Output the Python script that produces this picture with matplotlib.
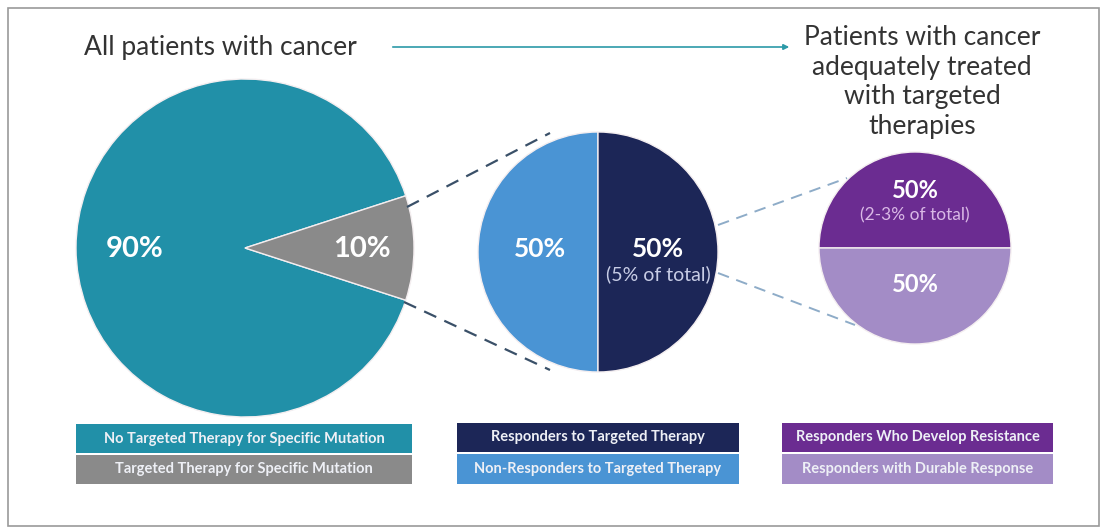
import matplotlib
matplotlib.use("Agg")
import matplotlib.pyplot as plt
from matplotlib.patches import Rectangle

plt.rcParams['font.family'] = ['Lato', 'DejaVu Sans']

# data
all_labels = ["No Targeted Therapy for Specific Mutation", "Targeted Therapy for Specific Mutation"]
all_values = [90, 10]
all_colors = ["#2190a8", "#8a8a8a"]

targeted_labels = ["Non-Responders to Targeted Therapy", "Responders to Targeted Therapy"]
targeted_values = [50, 50]
targeted_colors = ["#4a94d4", "#1c2657"]

responder_labels = ["Responders Who Develop Resistance", "Responders with Durable Response"]
responder_values = [50, 50]
responder_colors = ["#6b2c91", "#a38cc6"]

W, H = 1106, 532
fig = plt.figure(figsize=(W / 100, H / 100), dpi=100)
ax = fig.add_axes([0, 0, 1, 1])


def Y(y):
    return H - y


wp = dict(edgecolor="#f4eef0", linewidth=1)

# big pie (10% wedge centred on the right)
ax.pie(all_values, colors=all_colors, startangle=18,
       center=(245, Y(248)), radius=169, frame=True, wedgeprops=wp)
ax.text(135, Y(249), f"{all_values[0]}%", color="white", fontsize=21, fontweight="bold", ha="center", va="center")
ax.text(362, Y(249), f"{all_values[1]}%", color="white", fontsize=21, fontweight="bold", ha="center", va="center")

# middle pie
ax.pie(targeted_values, colors=targeted_colors, startangle=90,
       center=(598, Y(252)), radius=120, frame=True, wedgeprops=wp)
ax.text(540, Y(249), f"{targeted_values[0]}%", color="white", fontsize=19, fontweight="bold", ha="center", va="center")
ax.text(658, Y(249), f"{targeted_values[1]}%", color="white", fontsize=19, fontweight="bold", ha="center", va="center")
ax.text(658, Y(274), "(5% of total)", color="#c8cde6", fontsize=14, ha="center", va="center")

# right pie
ax.pie(responder_values, colors=responder_colors, startangle=0,
       center=(915, Y(248)), radius=96, frame=True, wedgeprops=wp)
ax.text(915, Y(191), f"{responder_values[0]}%", color="white", fontsize=17, fontweight="bold", ha="center", va="center")
ax.text(915, Y(215), "(2-3% of total)", color="#d9b8e6", fontsize=12.5, ha="center", va="center")
ax.text(915, Y(285), f"{responder_values[1]}%", color="white", fontsize=17, fontweight="bold", ha="center", va="center")

# connector dashes
ax.plot([407, 550], [Y(207), Y(133)], ls=(0, (6, 4)), color="#3a5068", lw=1.6)
ax.plot([404, 550], [Y(302), Y(370)], ls=(0, (6, 4)), color="#3a5068", lw=1.6)
ax.plot([718, 847], [Y(225), Y(178)], ls=(0, (6, 4)), color="#8eacc8", lw=1.4)
ax.plot([718, 855], [Y(273), Y(325)], ls=(0, (6, 4)), color="#8eacc8", lw=1.4)

# titles and arrow
ax.text(220, Y(47), "All patients with cancer", fontsize=19, color="#333333", ha="center", va="center")
ax.annotate("", xy=(792, Y(47)), xytext=(390, Y(47)),
            arrowprops=dict(arrowstyle="-|>", color="#2c9aa8", lw=1.2, mutation_scale=8))
ax.text(922, Y(82), "Patients with cancer\nadequately treated\nwith targeted\ntherapies",
        fontsize=19, color="#333333", ha="center", va="center", linespacing=1.22)

# legend boxes
boxes = [
    (76, 412, all_labels[0], all_colors[0], 424, 453),
    (76, 412, all_labels[1], all_colors[1], 455, 484),
    (457, 739, targeted_labels[1], targeted_colors[1], 423, 452),
    (457, 739, targeted_labels[0], targeted_colors[0], 454, 484),
    (782, 1053, responder_labels[0], responder_colors[0], 423, 452),
    (782, 1053, responder_labels[1], responder_colors[1], 454, 484),
]
for x0, x1, lab, col, y0, y1 in boxes:
    ax.add_patch(Rectangle((x0, Y(y1)), x1 - x0, y1 - y0, facecolor=col, edgecolor="none"))
    ax.text((x0 + x1) / 2, Y((y0 + y1) / 2), lab, color="#eef0f6", fontsize=10.5,
            fontweight="bold", ha="center", va="center")

# outer frame
ax.add_patch(Rectangle((8, Y(526)), 1091, 518, facecolor="none", edgecolor="#9a9a9a", lw=1.2))

ax.set_xlim(0, W)
ax.set_ylim(0, H)
ax.set_aspect("equal")
ax.axis("off")

fig.savefig("out.png", dpi=100, facecolor="white")
plt.close(fig)
